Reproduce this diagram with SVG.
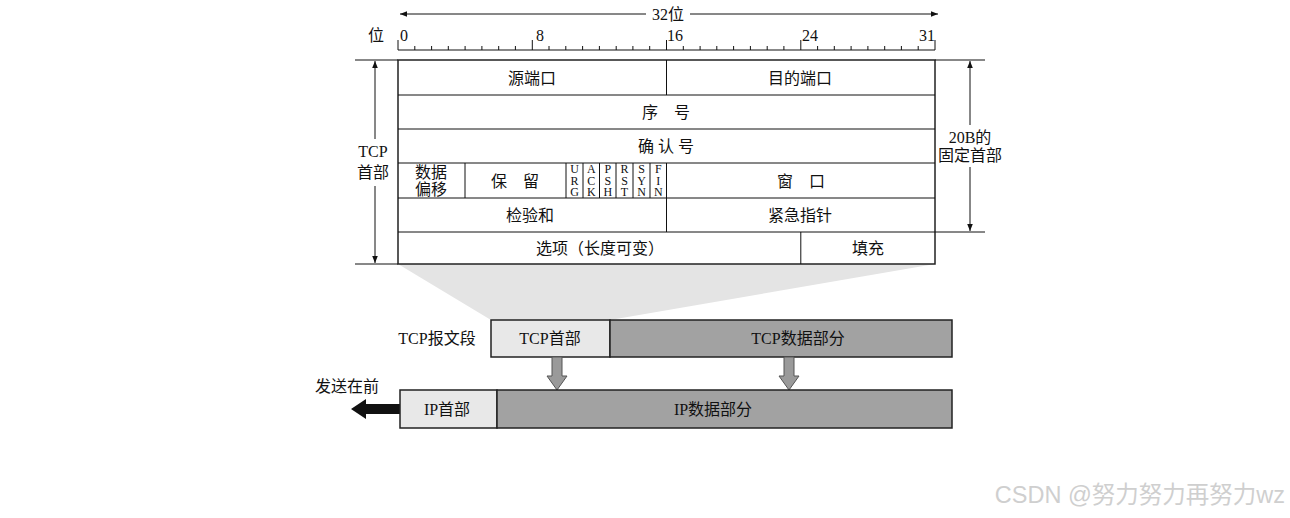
<svg xmlns="http://www.w3.org/2000/svg" width="1290" height="518" viewBox="0 0 1290 518">
<defs>
<style>
.t{font-family:"Liberation Serif","Noto Sans CJK SC",serif;font-size:16px;fill:#111;text-anchor:middle;dominant-baseline:central}
.f{font-family:"Liberation Serif","Noto Sans CJK SC",serif;font-size:12px;fill:#111;text-anchor:middle;dominant-baseline:central}
.ln{stroke:#111;stroke-width:1;fill:none}
.box{stroke:#222;stroke-width:1.5}
</style>
<marker id="ah" viewBox="0 0 10 10" refX="10" refY="5" markerWidth="9" markerHeight="7" orient="auto-start-reverse" markerUnits="userSpaceOnUse">
<path d="M0,1 L10,5 L0,9 Z" fill="#111"/>
</marker>
</defs>
<rect width="1290" height="518" fill="#fff"/>

<g id="width-label">
<line class="ln" x1="400" y1="14" x2="646" y2="14" marker-start="url(#ah)"/>
<line class="ln" x1="690" y1="14" x2="938" y2="14" marker-end="url(#ah)"/>
<text class="t" x="668" y="14">32位</text>
</g>

<g id="ruler">
<text class="t" x="376" y="35">位</text>
<text class="t" x="404" y="35">0</text>
<text class="t" x="540" y="35">8</text>
<text class="t" x="675" y="35">16</text>
<text class="t" x="810" y="35">24</text>
<text class="t" x="927" y="35">31</text>
<line class="ln" x1="398" y1="50" x2="935" y2="50"/>
<path class="ln" d="M398,50V40 M414.8,50V46 M431.6,50V46 M448.3,50V46 M465.1,50V46 M481.9,50V46 M498.7,50V46 M515.4,50V46 M532.3,50V40 M549,50V46 M565.8,50V46 M582.6,50V46 M599.4,50V46 M616.2,50V46 M632.9,50V46 M649.7,50V46 M666.5,50V40 M683.3,50V46 M700.1,50V46 M716.8,50V46 M733.6,50V46 M750.4,50V46 M767.2,50V46 M783.9,50V46 M800.8,50V40 M817.6,50V46 M834.3,50V46 M851.1,50V46 M867.9,50V46 M884.7,50V46 M901.4,50V46 M918.2,50V46 M935,50V40"/>
</g>

<g id="funnel">
<polygon points="398,264 935,264 610,320 491,320" fill="#e4e4e4"/>
</g>

<g id="header-table">
<rect x="398" y="60" width="537" height="204" fill="#fff" class="box"/>
<path class="ln" d="M398,95H935 M398,129H935 M398,163H935 M398,198H935 M398,232H935 M666.5,60V95 M666.5,163V232 M800.8,232V264 M465,163V198 M566,163V198 M583,163V198 M599.5,163V198 M616,163V198 M633,163V198 M650,163V198"/>
</g>

<g id="row1">
<text class="t" x="532" y="78">源端口</text>
<text class="t" x="800" y="78">目的端口</text>
</g>
<g id="row2"><text class="t" x="666" y="112">序　号</text></g>
<g id="row3"><text class="t" x="666" y="146">确 认 号</text></g>
<g id="row4">
<text class="t" x="431" y="172">数据</text>
<text class="t" x="431" y="189">偏移</text>
<text class="t" x="515" y="181">保　留</text>
<text class="f" x="574.5" y="169">U</text><text class="f" x="574.5" y="180.5">R</text><text class="f" x="574.5" y="192">G</text>
<text class="f" x="591.3" y="169">A</text><text class="f" x="591.3" y="180.5">C</text><text class="f" x="591.3" y="192">K</text>
<text class="f" x="607.8" y="169">P</text><text class="f" x="607.8" y="180.5">S</text><text class="f" x="607.8" y="192">H</text>
<text class="f" x="624.5" y="169">R</text><text class="f" x="624.5" y="180.5">S</text><text class="f" x="624.5" y="192">T</text>
<text class="f" x="641.5" y="169">S</text><text class="f" x="641.5" y="180.5">Y</text><text class="f" x="641.5" y="192">N</text>
<text class="f" x="658.3" y="169">F</text><text class="f" x="658.3" y="180.5">I</text><text class="f" x="658.3" y="192">N</text>
<text class="t" x="801" y="181">窗　口</text>
</g>
<g id="row5">
<text class="t" x="530" y="215">检验和</text>
<text class="t" x="800" y="215">紧急指针</text>
</g>
<g id="row6">
<text class="t" x="600" y="248">选项（长度可变）</text>
<text class="t" x="868" y="248">填充</text>
</g>

<g id="tcp-header-dim">
<path class="ln" d="M355,60H398 M355,264H398"/>
<line class="ln" x1="375" y1="61" x2="375" y2="139" marker-start="url(#ah)"/>
<line class="ln" x1="375" y1="186" x2="375" y2="263" marker-end="url(#ah)"/>
<text class="t" x="373" y="151">TCP</text>
<text class="t" x="373" y="172">首部</text>
</g>

<g id="fixed-header-dim">
<path class="ln" d="M935,60H985 M935,232H985"/>
<line class="ln" x1="970" y1="61" x2="970" y2="125" marker-start="url(#ah)"/>
<line class="ln" x1="970" y1="167" x2="970" y2="231" marker-end="url(#ah)"/>
<text class="t" x="970" y="137">20B的</text>
<text class="t" x="970" y="155">固定首部</text>
</g>

<g id="tcp-segment">
<text class="t" x="437" y="338">TCP报文段</text>
<rect x="491" y="320" width="119" height="37" fill="#e8e8e8" class="box"/>
<rect x="610" y="320" width="342" height="37" fill="#a2a2a2" class="box"/>
<text class="t" x="550" y="338">TCP首部</text>
<text class="t" x="798" y="338">TCP数据部分</text>
</g>

<g id="connectors">
<polygon points="552,357 562,357 562,376 567,376 557,390 547,376 552,376" fill="#9a9a9a" stroke="#555" stroke-width="1"/>
<polygon points="784,357 794,357 794,376 799,376 789,390 779,376 784,376" fill="#9a9a9a" stroke="#555" stroke-width="1"/>
<polygon points="400,404 366,404 366,399 351,409 366,419 366,414 400,414" fill="#111"/>
</g>

<g id="ip-datagram">
<text class="t" x="347" y="386">发送在前</text>
<rect x="400" y="390" width="97" height="38" fill="#e8e8e8" class="box"/>
<rect x="497" y="390" width="455" height="38" fill="#a2a2a2" class="box"/>
<text class="t" x="447" y="409">IP首部</text>
<text class="t" x="713" y="409">IP数据部分</text>
</g>

<g id="watermark">
<text x="1285" y="495" style="font-family:'Liberation Sans','Noto Sans CJK SC',sans-serif;font-size:23.5px;fill:#cfcfcf;text-anchor:end;dominant-baseline:central">CSDN @努力努力再努力wz</text>
</g>
</svg>
